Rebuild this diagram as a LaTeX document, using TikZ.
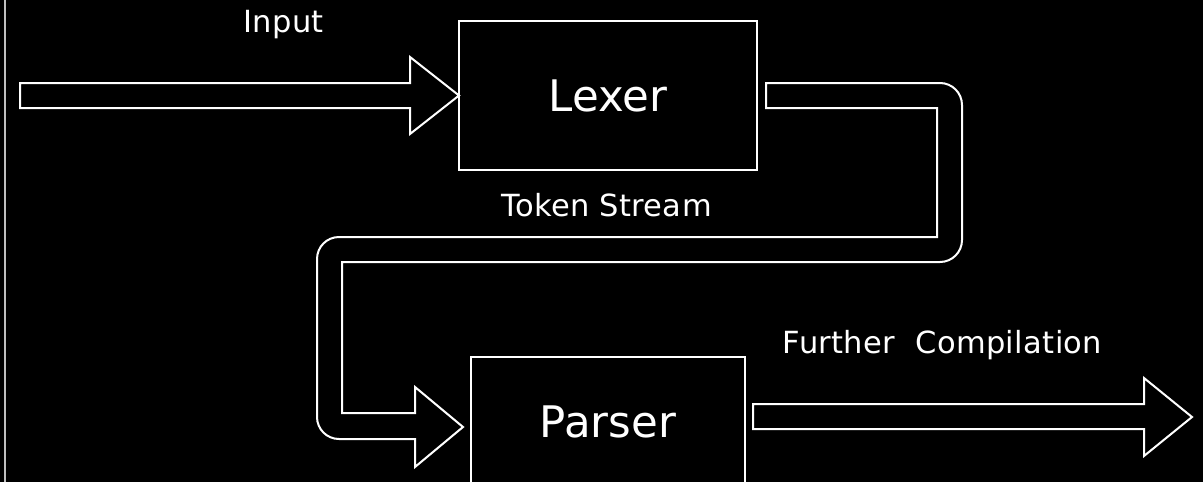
\documentclass[tikz,border=0pt]{standalone}
\usepackage{fontspec}
\setmainfont{DejaVu Sans}
\newfontfamily\tagfont[LetterSpace=1.2]{DejaVu Sans}
\usetikzlibrary{calc}
\tikzset{
  stage/.style={rectangle,draw=white,line width=2pt,inner sep=0pt,outer sep=0pt,text=white,font=\fontsize{43.5}{52}\selectfont},
  blockarrow/.style={draw=white,line width=2pt,line join=miter},
  tag/.style={text=white,inner sep=0pt,anchor=base,font=\tagfont\fontsize{30.5}{36}\selectfont}
}

\begin{document}
\begin{tikzpicture}[x=1pt,y=-1pt]
  \fill[black] (0,0) rectangle (1203,482);
  \useasboundingbox (0,0) rectangle (1203,482);
  \draw[line width=2pt,draw=white!75!black] (4.7,0) -- (4.7,482);

  \node[stage,minimum width=298pt,minimum height=149pt] (lexer) at (608,95.5) {Lexer};
  \node[stage,minimum width=274pt,minimum height=129pt] (parser) at (608,421.5) {Parser};
  \coordinate (out) at (1192,417);

  % input -> lexer
  \draw[blockarrow] ([shift={(-439,-12.5)}]lexer.west) -- ++(390,0) -- ++(0,-26) -- (lexer.west)
    -- ++(-49,38.5) -- ++(0,-26) -- ++(-390,0) -- cycle;

  % lexer -> parser (token stream)
  \draw[blockarrow] ([shift={(9,-12.5)}]lexer.east) -- (940,83) arc[start angle=270,end angle=360,radius=22]
    -- (962,240) arc[start angle=0,end angle=90,radius=22] -- (342,262) -- (342,413) -- (415,413) -- (415,387)
    -- ([shift={(-8,5.5)}]parser.west) -- (415,467) -- (415,439)
    -- (339,439) arc[start angle=90,end angle=180,radius=22]
    -- (317,259) arc[start angle=180,end angle=270,radius=22]
    -- (937,237) -- (937,108) -- ([shift={(9,12.5)}]lexer.east) -- cycle;

  % parser -> further compilation
  \draw[blockarrow] ([shift={(8,-17.5)}]parser.east) -- ++(391,0) -- ++(0,-26) -- (out)
    -- ++(-48,39) -- ++(0,-27) -- ++(-391,0) -- cycle;

  \node[tag] (inputlbl) at (283.5,32.7) {Input};
  \node[tag] (streamlbl) at (606.5,216.7) {Token Stream};
  \node[tag] (furtherlbl) at (942.5,353.3) {Further\ \ Compilation};
\end{tikzpicture}
\end{document}
